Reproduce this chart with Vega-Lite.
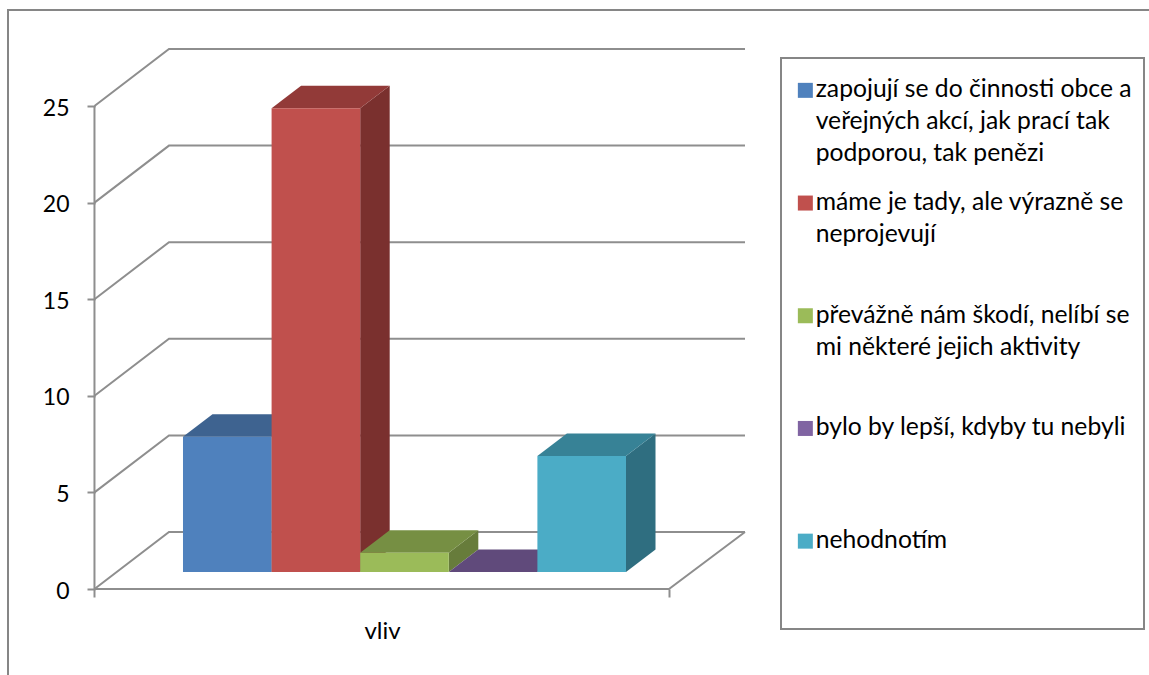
{
"$schema":"https://vega.github.io/schema/vega-lite/v6.json",
"width":1142,"height":666,
"padding":{"left":8,"top":10,"right":0,"bottom":0},
"autosize":"none",
"background":"white",
"config":{"view":{"stroke":"#868686","strokeWidth":2},"font":"Lato","legend":{"strokeWidth":2}},
"datasets":{
"bars":[
{"series":"zapojují se do činnosti obce a veřejných akcí, jak prací tak podporou, tak penězi","value":7,"order":0},
{"series":"máme je tady, ale výrazně se neprojevují","value":24,"order":1},
{"series":"převážně nám škodí, nelíbí se mi některé jejich aktivity","value":1,"order":2},
{"series":"bylo by lepší, kdyby tu nebyli","value":0,"order":3},
{"series":"nehodnotím","value":6,"order":4}
],
"ticks":[{"tick":0},{"tick":5},{"tick":10},{"tick":15},{"tick":20},{"tick":25}]
},
"encoding":{
"x":{"field":"sx","type":"quantitative","scale":{"domain":[-1.975,10.914],"nice":false,"zero":false},
"axis":{"values":[-0.999,5.485],"labels":false,"domain":false,"grid":false,"ticks":true,"tickSize":8,"tickWidth":2,"tickColor":"#8e8e8e","offset":-87,"title":"vliv","titleFont":"Lato","titleFontSize":24,"titleFontWeight":"normal","titleColor":"#000000","titleX":374,"titleY":49,"titleBaseline":"alphabetic"}},
"y":{"field":"sy","type":"quantitative","scale":{"domain":[-4.503,29.97],"nice":false,"zero":false},
"axis":{"values":[0,5,10,15,20,25],"domain":false,"grid":false,"tickSize":8,"tickWidth":2,"tickColor":"#8e8e8e","labelPadding":18,"labelOffset":2,"labelFont":"Lato","labelFontSize":23,"labelColor":"#000000","offset":-87,"title":null}}
},
"layer":[
{"data":{"name":"ticks"},
"transform":[{"calculate":"[0,1,2]","as":"k"},{"flatten":["k"]},{"calculate":"datum.k==0?-0.999:(datum.k==1?-0.158:6.343)","as":"sx"},{"calculate":"datum.tick+(datum.k>0?2.95:0)","as":"sy"}],
"mark":{"type":"line","stroke":"#8e8e8e","strokeWidth":2},
"encoding":{"detail":{"field":"tick"},"order":{"field":"k"}}},
{"data":{"name":"ticks"},
"transform":[{"filter":"datum.tick==0"},{"calculate":"[-0.999,5.485,6.343]","as":"sx"},{"flatten":["sx"]},{"calculate":"datum.sx>6?2.95:0","as":"sy"}],
"mark":{"type":"line","stroke":"#8e8e8e","strokeWidth":2}},
{"data":{"name":"ticks"},
"transform":[{"filter":"datum.tick==0||datum.tick==25"},{"calculate":"-0.999","as":"sx"},{"calculate":"datum.tick","as":"sy"}],
"mark":{"type":"line","stroke":"#8e8e8e","strokeWidth":2},
"encoding":{"order":{"field":"tick"}}},
{"data":{"name":"bars"},
"transform":[{"calculate":"[0,1]","as":"k"},{"flatten":["k"]},{"calculate":"datum.order+1+datum.k*0.333","as":"sx"},{"calculate":"datum.value+0.88+datum.k*1.165","as":"sy"},{"calculate":"0.88+datum.k*1.165","as":"sy2"}],
"mark":{"type":"area","orient":"vertical"},
"encoding":{"y2":{"field":"sy2"},
"color":{"field":"series","type":"nominal","legend":null,"scale":{"domain":["zapojují se do činnosti obce a veřejných akcí, jak prací tak podporou, tak penězi","máme je tady, ale výrazně se neprojevují","převážně nám škodí, nelíbí se mi některé jejich aktivity","bylo by lepší, kdyby tu nebyli","nehodnotím"],"range":["#3A5F8C","#7A302E","#677C3B","#4F3D66","#2F6E80"]}}}},
{"data":{"name":"bars"},
"transform":[{"calculate":"[0,1]","as":"k"},{"flatten":["k"]},{"calculate":"datum.order+datum.k*0.333","as":"sx"},{"calculate":"datum.order+1+datum.k*0.333","as":"sx2"},{"calculate":"datum.value+0.88+datum.k*1.165","as":"sy"}],
"mark":{"type":"area","orient":"horizontal"},
"encoding":{"x2":{"field":"sx2"},
"color":{"field":"series","type":"nominal","legend":null,"scale":{"domain":["zapojují se do činnosti obce a veřejných akcí, jak prací tak podporou, tak penězi","máme je tady, ale výrazně se neprojevují","převážně nám škodí, nelíbí se mi některé jejich aktivity","bylo by lepší, kdyby tu nebyli","nehodnotím"],"range":["#3E6390","#923A38","#768F43","#604A7B","#378296"]}}}},
{"data":{"name":"bars"},
"transform":[{"calculate":"datum.order","as":"sx"},{"calculate":"datum.order+1","as":"sx2"},{"calculate":"datum.value+0.88","as":"sy"},{"calculate":"0.88","as":"sy2"}],
"mark":{"type":"rect"},
"encoding":{"x2":{"field":"sx2"},"y2":{"field":"sy2"},
"color":{"field":"series","type":"nominal","scale":{"domain":["zapojují se do činnosti obce a veřejných akcí, jak prací tak podporou, tak penězi","máme je tady, ale výrazně se neprojevují","převážně nám škodí, nelíbí se mi některé jejich aktivity","bylo by lepší, kdyby tu nebyli","nehodnotím"],"range":["#4F81BD","#C0504D","#9BBB59","#8064A2","#4BACC6"]},
"legend":{"orient":"none","legendX":773,"legendY":48,"title":" ","titleFontSize":1,"titlePadding":7,"symbolType":"square","symbolSize":225,"symbolStrokeWidth":0,"labelFont":"Lato","labelFontSize":24.7,"labelColor":"#000000","labelLimit":600,"labelBaseline":"top","labelOffset":-2,"gridAlign":"all","columns":1,"rowPadding":22.7,"padding":12,"strokeColor":"#868686","fillColor":"white",
"encode":{"labels":{"update":{"lineHeight":{"value":32},"dy":{"value":-13}}}},
"labelExpr":"split(replace(replace(replace(replace(replace(datum.label,'a veřejných','a|veřejných'),'tak podporou','tak|podporou'),'se neprojevují','se|neprojevují'),'se mi někt','se|mi někt'),'nehodnotím','nehodnotím| | '),'|')"}}}}
],
"resolve":{"scale":{"color":"independent"},"legend":{"color":"independent"}}
}
